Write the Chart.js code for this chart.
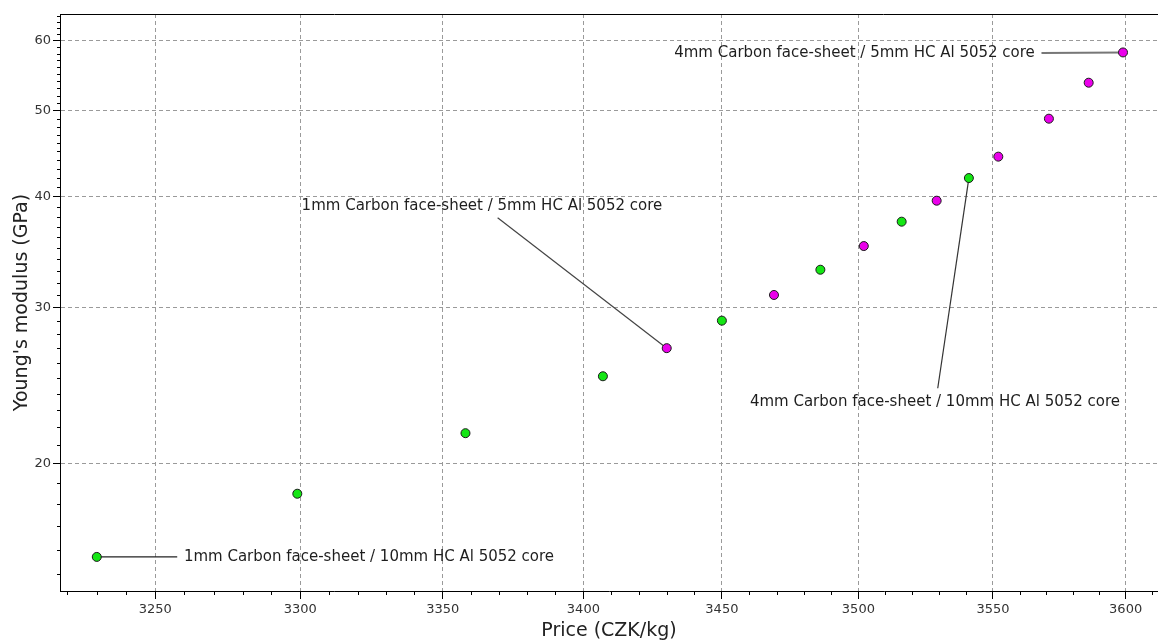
<!DOCTYPE html>
<html><head><meta charset="utf-8">
<script src="https://cdn.jsdelivr.net/npm/chart.js@4.4.1/dist/chart.umd.min.js"></script>
<style>html,body{margin:0;padding:0;background:#fff;overflow:hidden;} canvas{display:block;}</style>
</head><body><canvas id="c" width="1158" height="641" style="width:1158px;height:641px"></canvas>
<script>
// ---- data ----
const core10Price   = [3230, 3299, 3358, 3407, 3450, 3486, 3516, 3541];
const core10Modulus = [15.7, 18.5, 21.65, 25.1, 29.0, 33.1, 37.5, 42.0];
const core5Price    = [3430, 3469, 3502, 3529, 3552, 3571, 3586, 3599];
const core5Modulus  = [27.0, 31.0, 35.2, 39.6, 44.4, 49.0, 53.8, 58.2];
const xTicks = [3250, 3300, 3350, 3400, 3450, 3500, 3550, 3600];
const yTicks = [20, 30, 40, 50, 60];
const xRange = [3217.5, 3612.3];
const yRange = [14.37, 64.31];
const xTitle = 'Price (CZK/kg)';
const yTitle = "Young's modulus (GPa)";
const labels = [
  '1mm Carbon face-sheet / 10mm HC Al 5052 core',
  '1mm Carbon face-sheet / 5mm HC Al 5052 core',
  '4mm Carbon face-sheet / 5mm HC Al 5052 core',
  '4mm Carbon face-sheet / 10mm HC Al 5052 core'
];
// annotation anchors in data units: label anchor, leader start
const annotations = [
  {text: labels[0], ds: 0, idx: 0, at: [3259.8, 15.7],  align: 'left',  from: [3257.5, 15.7],  lc: '#222', lw: 1.2},
  {text: labels[1], ds: 1, idx: 0, at: [3300.5, 39.05], align: 'left',  from: [3369.4, 37.88], lc: '#444', lw: 1.2},
  {text: labels[2], ds: 1, idx: 7, at: [3565.7, 58.1],  align: 'right', from: [3568.2, 58.1],  lc: '#777', lw: 2},
  {text: labels[3], ds: 0, idx: 7, at: [3460.2, 23.45], align: 'left',  from: [3529.4, 24.33], lc: '#333', lw: 1.2}
];

const FONT = "'DejaVu Sans', Verdana, sans-serif";
const pts = (xs, ys) => xs.map((x, i) => ({x: x, y: ys[i]}));

const minorTicks = {
  id: 'minorTicks',
  afterDraw(chart) {
    const {ctx, chartArea: a, scales: {x, y}} = chart;
    ctx.save();
    ctx.strokeStyle = '#000';
    ctx.lineWidth = 1;
    // frame top
    ctx.beginPath();
    ctx.moveTo(a.left, Math.round(a.top) + 0.5); ctx.lineTo(a.right, Math.round(a.top) + 0.5);
    ctx.stroke();
    ctx.beginPath();
    for (let v = Math.ceil(xRange[0] / 10) * 10; v <= xRange[1]; v += 10) {
      if (xTicks.includes(v)) continue;
      const px = Math.round(x.getPixelForValue(v)) + 0.5;
      ctx.moveTo(px, a.bottom); ctx.lineTo(px, a.bottom + 4);
    }
    for (let v = Math.ceil(yRange[0]); v <= yRange[1]; v += 1) {
      if (yTicks.includes(v)) continue;
      const py = Math.round(y.getPixelForValue(v)) + 0.5;
      ctx.moveTo(a.left, py); ctx.lineTo(a.left - 3, py);
    }
    ctx.stroke();
    ctx.restore();
  }
};

const annot = {
  id: 'annot',
  beforeDatasetsDraw(chart) {
    const {ctx, scales: {x, y}} = chart;
    ctx.save();
    annotations.forEach(an => {
      const meta = chart.getDatasetMeta(an.ds);
      const p = meta.data[an.idx];
      ctx.strokeStyle = an.lc; ctx.lineWidth = an.lw;
      ctx.beginPath();
      ctx.moveTo(x.getPixelForValue(an.from[0]), y.getPixelForValue(an.from[1]));
      ctx.lineTo(p.x, p.y);
      ctx.stroke();
    });
    ctx.restore();
  },
  afterDatasetsDraw(chart) {
    const {ctx, scales: {x, y}} = chart;
    ctx.save();
    ctx.font = '15px ' + FONT;
    ctx.fillStyle = '#1e1e1e';
    ctx.textBaseline = 'middle';
    annotations.forEach(an => {
      ctx.textAlign = an.align;
      ctx.fillText(an.text, x.getPixelForValue(an.at[0]), y.getPixelForValue(an.at[1]));
    });
    ctx.restore();
  }
};

new Chart(document.getElementById('c'), {
  type: 'scatter',
  data: {
    datasets: [
      {label: '10mm core', data: pts(core10Price, core10Modulus), backgroundColor: '#14e614', borderColor: '#1a1a1a', borderWidth: 1, pointRadius: 4.5},
      {label: '5mm core', data: pts(core5Price, core5Modulus), backgroundColor: '#ea00ea', borderColor: '#1a1a1a', borderWidth: 1, pointRadius: 4.5}
    ]
  },
  options: {
    responsive: false, animation: false, devicePixelRatio: 1,
    layout: {autoPadding: false, padding: {top: 14, right: 0, bottom: 0, left: 0}},
    plugins: {legend: {display: false}, tooltip: {enabled: false}},
    scales: {
      x: {
        type: 'logarithmic', min: xRange[0], max: xRange[1],
        afterBuildTicks: s => { s.ticks = xTicks.map(v => ({value: v})); },
        afterFit: s => { s.height = 50; s.paddingLeft = 0; s.paddingRight = 0; },
        ticks: {callback: v => String(v), autoSkip: false, maxRotation: 0, color: '#333', font: {family: FONT, size: 13}, padding: 3},
        grid: {color: '#9a9a9a', lineWidth: 1, tickColor: '#000', tickLength: 8, tickBorderDash: [], tickWidth: 1},
        border: {display: true, color: '#000', width: 1, dash: [4, 3]},
        title: {display: true, text: xTitle, color: '#222', font: {family: FONT, size: 19, lineHeight: 1.0}, padding: {top: 0, bottom: 0}}
      },
      y: {
        type: 'logarithmic', min: yRange[0], max: yRange[1],
        afterBuildTicks: s => { s.ticks = yTicks.map(v => ({value: v})); },
        afterFit: s => { s.width = 60; s.paddingTop = 0; s.paddingBottom = 0; },
        ticks: {callback: v => String(v), autoSkip: false, color: '#333', font: {family: FONT, size: 13}, padding: 2},
        grid: {color: '#9a9a9a', lineWidth: 1, tickColor: '#000', tickLength: 7, tickBorderDash: [], tickWidth: 1},
        border: {display: true, color: '#000', width: 1, dash: [4, 3]},
        title: {display: true, text: yTitle, color: '#222', font: {family: FONT, size: 19, lineHeight: 1.0}, padding: {top: 13, bottom: 0}}
      }
    }
  },
  plugins: [annot, minorTicks]
});
</script>
</body></html>
